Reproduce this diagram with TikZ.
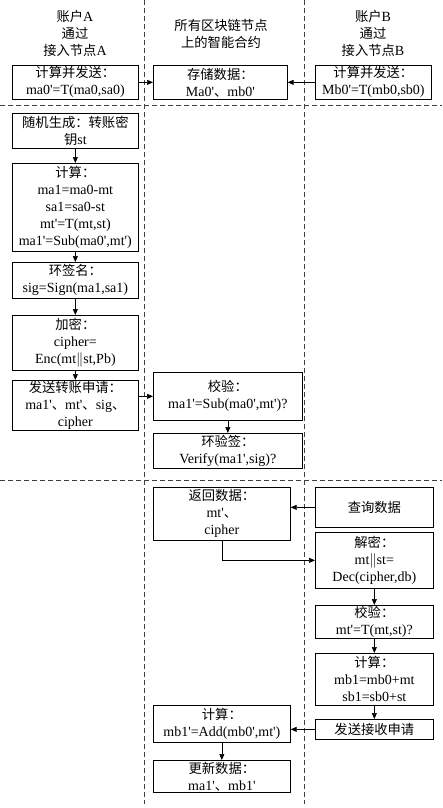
\documentclass[tikz,border=0pt]{standalone}
\usepackage{fontspec}
\setmainfont{Liberation Serif}[Ligatures=TeXOff]
\newfontfamily\cjk[Scale=0.95]{Noto Sans CJK SC}
\newcommand{\zh}[1]{{\cjk #1}}
\usetikzlibrary{arrows.meta, positioning}

\begin{document}
\begin{tikzpicture}[x=1pt, y=-1pt,
            font=\fontsize{14}{17}\selectfont,
            box/.style={draw, line width=0.7pt, anchor=north west, align=center, inner sep=1pt},
            colA/.style={box, minimum width=126pt},
            colM/.style={box, minimum width=137pt},
            colB/.style={box, minimum width=118pt},
            head/.style={align=center},
            arr/.style={-{Triangle[length=6pt,width=5pt]}, line width=0.7pt},
            lane/.style={draw=black!75, line width=0.7pt, dash pattern=on 5pt off 3pt}
        ]
            \useasboundingbox (0,0) rectangle (442,808);

            % lanes
            \draw[lane] (144,0) -- (144,804);
            \draw[lane] (304,0) -- (304,804);
            \draw[lane] (0,105) -- (442,105);
            \draw[lane] (0,480) -- (442,480);

            % headers
            \node[head] (hA) at (75,33) {\zh{账户}A\\\zh{通过}\\\zh{接入节点}A};
            \node[head] (hM) at (221,34) {\zh{所有区块链节点}\\\zh{上的智能合约}};
            \node[head] (hB) at (373,33) {\zh{账户}B\\\zh{通过}\\\zh{接入节点}B};

            % first row
            \node[colA, minimum height=34pt] (a0) at (12,65) {\zh{计算并发送：}\\ma0'=T(ma0,sa0)};
            \node[colM, minimum width=134pt, minimum height=34pt] (m0) at (153,65) {\zh{存储数据：}\\Ma0'\zh{、}mb0'};
            \node[colB, minimum width=116pt, minimum height=34pt] (b0) at (315,65) {\zh{计算并发送：}\\Mb0'=T(mb0,sb0)};

            % account A
            \node[colA, minimum height=35pt] (a1) at (12,113) {\zh{随机生成：转账密}\\\zh{钥}st};
            \node[colA, minimum height=88pt] (a2) at (12,163) {\zh{计算：}\\ma1=ma0-mt\\sa1=sa0-st\\mt'=T(mt,st)\\ma1'=Sub(ma0',mt')};
            \node[colA, minimum height=36pt] (a3) at (12,262) {\zh{环签名：}\\sig=Sign(ma1,sa1)};
            \node[colA, minimum height=55pt] (a4) at (12,315) {\zh{加密：}\\cipher=\\Enc(mt$\|$st,Pb)};
            \node[colA, minimum height=50pt] (a5) at (12,380) {\zh{发送转账申请：}\\ma1'\zh{、}mt'\zh{、}sig\zh{、}\\cipher};

            % smart contract
            \node[colM, minimum width=149pt, minimum height=48pt] (m1) at (153,372) {\zh{校验：}\\ma1'=Sub(ma0',mt')?};
            \node[colM, minimum width=149pt, minimum height=35pt] (m2) at (153,433) {\zh{环验签：}\\Verify(ma1',sig)?};
            \node[colM, minimum height=53pt] (m3) at (153,487) {\zh{返回数据：}\\mt'\zh{、}\\cipher};
            \node[colM, minimum height=37pt] (m4) at (153,705) {\zh{计算：}\\mb1'=Add(mb0',mt')};
            \node[colM, minimum height=32pt] (m5) at (153,760) {\zh{更新数据：}\\ma1'\zh{、}mb1'};

            % account B
            \node[colB, minimum height=40pt] (b1) at (315,487) {\zh{查询数据}};
            \node[colB, minimum height=56pt] (b2) at (315,532) {\zh{解密：}\\mt$\|$st=\\Dec(cipher,db)};
            \node[colB, minimum height=32pt] (b3) at (315,605) {\zh{校验：}\\mt'=T(mt,st)?};
            \node[colB, minimum height=52pt] (b4) at (315,653) {\zh{计算：}\\mb1=mb0+mt\\sb1=sb0+st};
            \node[colB, minimum height=20pt] (b5) at (315,719) {\zh{发送接收申请}};

            \draw[arr] (a0) -- (m0);
            \draw[arr] (b0) -- (m0);
            \draw[arr] (a1) -- (a2);
            \draw[arr] (a2) -- (a3);
            \draw[arr] (a3) -- (a4);
            \draw[arr] (a4) -- (a5);
            \draw[arr] (m1.west -| a5.east) -- (m1.west);
            \draw[arr] (m1) -- (m2);
            \draw[arr] (b1.west) -- (b1.west -| m3.east);
            \draw[arr] (m3.south) |- (b2.west);
            \draw[arr] (b2) -- (b3);
            \draw[arr] (b3) -- (b4);
            \draw[arr] (b4) -- (b5);
            \draw[arr] (b5.west) -- (b5.west -| m4.east);
            \draw[arr] (m4) -- (m5);
        \end{tikzpicture}
\end{document}
